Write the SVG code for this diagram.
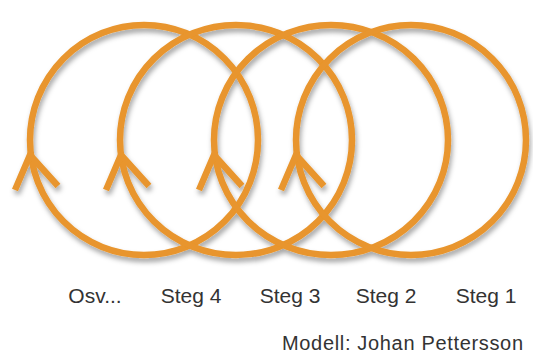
<svg xmlns="http://www.w3.org/2000/svg" width="533" height="356" viewBox="0 0 533 356">
  <defs>
    <filter id="sh" x="-10%" y="-10%" width="120%" height="125%">
      <feDropShadow dx="1.5" dy="4" stdDeviation="2.5" flood-color="#000" flood-opacity="0.35"/>
    </filter>
  </defs>
  <style>
    .ring { fill: none; stroke: #E8952D; stroke-width: 6.5; }
    .head { fill: none; stroke: #E8952D; stroke-width: 6.5; stroke-linejoin: miter; stroke-linecap: butt; }
    .lbl { font-family: "Liberation Sans", Arial, sans-serif; font-size: 21px; fill: #333; text-anchor: middle; }
    .credit { font-family: "Liberation Sans", Arial, sans-serif; font-size: 20px; fill: #333; }
  </style>
  <rect width="533" height="356" fill="#fff"/>
  <g id="connectors" filter="url(#sh)">
    <g id="cycle-osv">
      <ellipse class="ring" cx="144" cy="140" rx="114" ry="115"/>
      <polyline class="head" points="15,190 30,155 58,186"/>
    </g>
    <g id="cycle-steg4">
      <ellipse class="ring" cx="236" cy="140" rx="116" ry="115"/>
      <polyline class="head" points="106,190 121,155 149,186"/>
    </g>
    <g id="cycle-steg3">
      <ellipse class="ring" cx="331" cy="140" rx="117" ry="115"/>
      <polyline class="head" points="199,190 214,155 242,186"/>
    </g>
    <g id="cycle-steg2">
      <ellipse class="ring" cx="411" cy="140" rx="115" ry="115"/>
      <polyline class="head" points="281,190 296,155 324,186"/>
    </g>
  </g>
  <g id="labels">
    <text id="t-osv" class="lbl" x="95" y="303">Osv...</text>
    <text id="t-steg4" class="lbl" x="191" y="303">Steg 4</text>
    <text id="t-steg3" class="lbl" x="290" y="303">Steg 3</text>
    <text id="t-steg2" class="lbl" x="386" y="303">Steg 2</text>
    <text id="t-steg1" class="lbl" x="486" y="303">Steg 1</text>
    <text id="t-credit" class="credit" x="282" y="350" textLength="241" lengthAdjust="spacing">Modell: Johan Pettersson</text>
  </g>
</svg>
